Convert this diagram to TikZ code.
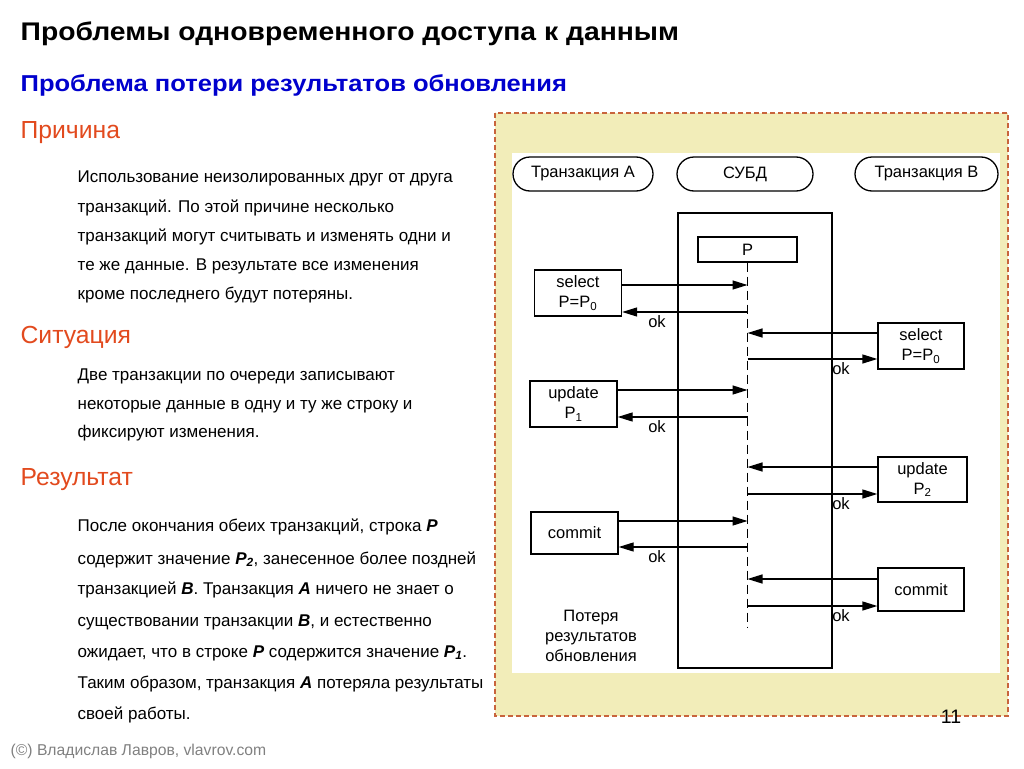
\documentclass[tikz,border=0pt]{standalone}
\usepackage{fontspec}
\setmainfont{Liberation Sans}
\newfontfamily\wideheadfont[FakeStretch=1.11]{Liberation Sans}
\usetikzlibrary{arrows.meta}

\definecolor{titleblue}{RGB}{0,0,205}
\definecolor{headred}{RGB}{226,74,30}
\definecolor{panelfill}{RGB}{242,237,185}
\definecolor{paneledge}{RGB}{200,100,60}
\definecolor{footgray}{RGB}{128,128,128}

\newcommand{\dfont}{\fontsize{16.5}{20}\selectfont}
\newcommand{\bi}[1]{\textbf{\textit{#1}}}

\tikzset{
  txtline/.style={anchor=base west,inner sep=0pt,font=\fontsize{17}{20}\selectfont},
  headline/.style={anchor=base west,inner sep=0pt,text=headred,font=\fontsize{24.7}{28}\selectfont},
  actor/.style={draw,rounded corners=17pt,minimum height=34pt,inner sep=0pt,font=\dfont},
  opbox/.style={draw,inner sep=0pt,align=center,font=\dfont},
  msg/.style={-{Triangle[length=15pt,width=9pt]}},
  oklabel/.style={anchor=base,inner sep=0pt,font=\dfont},
}

\begin{document}
\begin{tikzpicture}[x=1pt,y=-1pt,line width=1.3pt]
  \useasboundingbox (0,0) rectangle (1024,768);

  % headings
  \node[anchor=base west,inner sep=0pt,font=\wideheadfont\fontsize{25.5}{30}\selectfont\bfseries] (title) at (20,41)
    {Проблемы одновременного доступа к данным};
  \node[anchor=base west,inner sep=0pt,text=titleblue,font=\wideheadfont\fontsize{23}{28}\selectfont\bfseries] (subtitle) at (20,91.5)
    {Проблема потери результатов обновления};

  % left column
  \node[headline] (cause) at (20,138) {Причина};
  \node[txtline] (c1) at (77,182) {Использование неизолированных друг от друга};
  \node[txtline] (c2) at (77,212) {транзакций. По этой причине несколько};
  \node[txtline] (c3) at (77,241) {транзакций могут считывать и изменять одни и};
  \node[txtline] (c4) at (77,270) {те же данные. В результате все изменения};
  \node[txtline] (c5) at (77,299) {кроме последнего будут потеряны.};

  \node[headline] (situation) at (20,343) {Ситуация};
  \node[txtline] (s1) at (77,380) {Две транзакции по очереди записывают};
  \node[txtline] (s2) at (77,409) {некоторые данные в одну и ту же строку и};
  \node[txtline] (s3) at (77,437) {фиксируют изменения.};

  \node[headline] (result) at (20,485) {Результат};
  \node[txtline] (r1) at (77,531) {После окончания обеих транзакций, строка \bi{P}};
  \node[txtline] (r2) at (77,564) {содержит значение \bi{P\textsubscript{2}}, занесенное более поздней};
  \node[txtline] (r3) at (77,594) {транзакцией \bi{B}. Транзакция \bi{A} ничего не знает о};
  \node[txtline] (r4) at (77,626) {существовании транзакции \bi{B}, и естественно};
  \node[txtline] (r5) at (77,657) {ожидает, что в строке \bi{P} содержится значение \bi{P\textsubscript{1}}.};
  \node[txtline] (r6) at (77,688) {Таким образом, транзакция \bi{A} потеряла результаты};
  \node[txtline] (r7) at (77,719) {своей работы.};

  \node[anchor=base west,inner sep=0pt,text=footgray,font=\fontsize{15.7}{18}\selectfont] (footer) at (10,755)
    {(©) Владислав Лавров, vlavrov.com};

  % diagram panel
  \draw[paneledge,line width=1.2pt,dash pattern=on 5pt off 3pt,fill=panelfill] (495,113) rectangle (1008,716);
  \fill[white] (512,153) rectangle (1000,673);
  \node[anchor=base,inner sep=0pt,font=\fontsize{19.5}{22}\selectfont] (pagenum) at (951,723) {11};

  \node[actor,minimum width=140pt] (tA) at (583,174) {Транзакция A};
  \node[actor,minimum width=136pt] (dbms) at (745,174) {СУБД};
  \node[actor,minimum width=143pt] (tB) at (926.5,174) {Транзакция B};

  \node[draw,minimum width=154pt,minimum height=455pt,inner sep=0pt] (dbbox) at (755,440.5) {};
  \node[draw,minimum width=99pt,minimum height=25pt,inner sep=0pt,font=\dfont] (P) at (747.5,249.5) {P};
  \coordinate (lend) at (747.5,628);
  \draw[dash pattern=on 9pt off 5pt] (P.south) -- (lend);

  \node[opbox,minimum width=87pt,minimum height=46pt] (selA) at (578,293) {select\\P=P\textsubscript{0}};
  \node[opbox,minimum width=87pt,minimum height=46pt] (updA) at (573.5,404) {update\\P\textsubscript{1}};
  \node[opbox,minimum width=87pt,minimum height=42pt] (comA) at (574.5,533) {commit};
  \node[opbox,minimum width=86pt,minimum height=46pt] (selB) at (921,346) {select\\P=P\textsubscript{0}};
  \node[opbox,minimum width=89pt,minimum height=45pt] (updB) at (922.5,479.5) {update\\P\textsubscript{2}};
  \node[opbox,minimum width=86pt,minimum height=43pt] (comB) at (921,589.5) {commit};

  % points on the lifeline
  \coordinate (m1) at (747.5,285);
  \coordinate (m2) at (747.5,312);
  \coordinate (m3) at (747.5,333);
  \coordinate (m4) at (747.5,359);
  \coordinate (m5) at (747.5,390);
  \coordinate (m6) at (747.5,417);
  \coordinate (m7) at (747.5,467);
  \coordinate (m8) at (747.5,494);
  \coordinate (m9) at (747.5,521);
  \coordinate (m10) at (747.5,547);
  \coordinate (m11) at (747.5,579);
  \coordinate (m12) at (747.5,606);

  \begin{scope}[msg]
    \draw (selA.east |- m1) to (m1);
    \draw (m2) to (selA.east |- m2);
    \draw (selB.west |- m3) to (m3);
    \draw (m4) to (selB.west |- m4);
    \draw (updA.east |- m5) to (m5);
    \draw (m6) to (updA.east |- m6);
    \draw (updB.west |- m7) to (m7);
    \draw (m8) to (updB.west |- m8);
    \draw (comA.east |- m9) to (m9);
    \draw (m10) to (comA.east |- m10);
    \draw (comB.west |- m11) to (m11);
    \draw (m12) to (comB.west |- m12);
  \end{scope}

  \node[oklabel] (ok1) at (657,327) {ok};
  \node[oklabel] (ok2) at (841,374) {ok};
  \node[oklabel] (ok3) at (657,432) {ok};
  \node[oklabel] (ok4) at (841,509) {ok};
  \node[oklabel] (ok5) at (657,562) {ok};
  \node[oklabel] (ok6) at (841,621) {ok};

  \node[align=center,inner sep=0pt,font=\dfont] (loss) at (591,636)
    {Потеря\\результатов\\обновления};
\end{tikzpicture}
\end{document}
